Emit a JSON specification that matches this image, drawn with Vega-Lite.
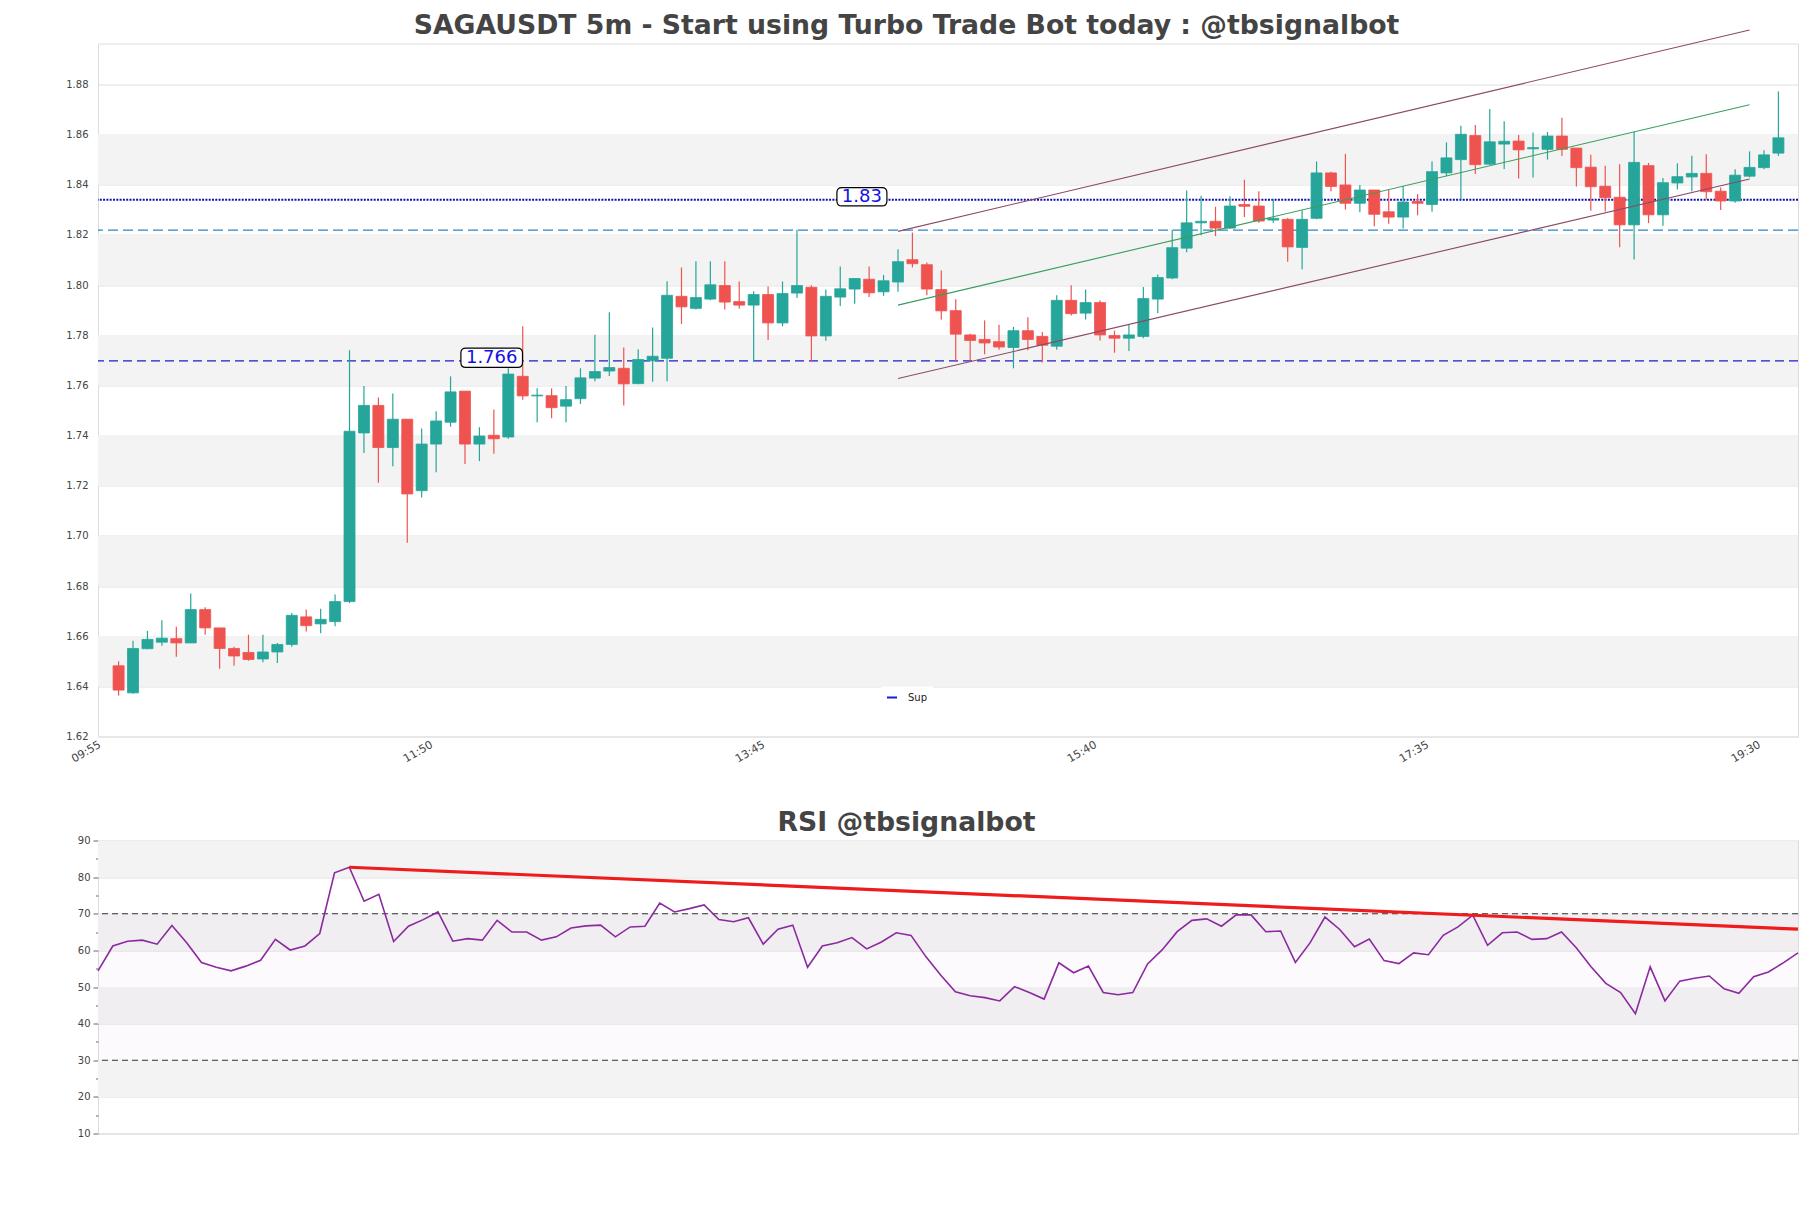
{
  "$schema": "https://vega.github.io/schema/vega-lite/v6.json",
  "background": "white",
  "padding": {"left": 57, "top": 11.5, "right": 10, "bottom": 10},
  "spacing": 45,
  "config": {
    "font": "DejaVu Sans",
    "view": {"stroke": "#dddddd", "strokeWidth": 1}
  },
  "datasets": {
    "candles": [
      {"i":0,"o":1.6482,"h":1.65,"l":1.6363,"c":1.6385},
      {"i":1,"o":1.6374,"h":1.6582,"l":1.637,"c":1.6551},
      {"i":2,"o":1.655,"h":1.6621,"l":1.6548,"c":1.6587},
      {"i":3,"o":1.6576,"h":1.6663,"l":1.6562,"c":1.6592},
      {"i":4,"o":1.659,"h":1.6638,"l":1.6518,"c":1.6573},
      {"i":5,"o":1.6573,"h":1.677,"l":1.6573,"c":1.6706},
      {"i":6,"o":1.6706,"h":1.6715,"l":1.6606,"c":1.6633},
      {"i":7,"o":1.6633,"h":1.6633,"l":1.647,"c":1.6551},
      {"i":8,"o":1.6551,"h":1.6558,"l":1.6482,"c":1.6521},
      {"i":9,"o":1.6535,"h":1.6606,"l":1.6502,"c":1.6507},
      {"i":10,"o":1.6509,"h":1.6606,"l":1.6496,"c":1.6537},
      {"i":11,"o":1.6537,"h":1.6573,"l":1.6493,"c":1.6567},
      {"i":12,"o":1.6567,"h":1.6692,"l":1.6558,"c":1.6683},
      {"i":13,"o":1.6677,"h":1.6706,"l":1.6619,"c":1.6642},
      {"i":14,"o":1.6649,"h":1.6709,"l":1.6612,"c":1.6667},
      {"i":15,"o":1.6658,"h":1.6766,"l":1.664,"c":1.6738},
      {"i":16,"o":1.6738,"h":1.774,"l":1.6732,"c":1.7417},
      {"i":17,"o":1.741,"h":1.7597,"l":1.733,"c":1.752},
      {"i":18,"o":1.752,"h":1.7552,"l":1.7212,"c":1.7352},
      {"i":19,"o":1.7352,"h":1.7568,"l":1.7277,"c":1.7465},
      {"i":20,"o":1.7465,"h":1.7465,"l":1.6972,"c":1.7167},
      {"i":21,"o":1.718,"h":1.7428,"l":1.7153,"c":1.7366},
      {"i":22,"o":1.7366,"h":1.7497,"l":1.7254,"c":1.7458},
      {"i":23,"o":1.7453,"h":1.7636,"l":1.7435,"c":1.7574},
      {"i":24,"o":1.7577,"h":1.7577,"l":1.7286,"c":1.7366},
      {"i":25,"o":1.7366,"h":1.7433,"l":1.7298,"c":1.7398},
      {"i":26,"o":1.7401,"h":1.7504,"l":1.7327,"c":1.7387},
      {"i":27,"o":1.7394,"h":1.7668,"l":1.7387,"c":1.7645},
      {"i":28,"o":1.7636,"h":1.7836,"l":1.7543,"c":1.7558},
      {"i":29,"o":1.7558,"h":1.7588,"l":1.7453,"c":1.7561},
      {"i":30,"o":1.7559,"h":1.7588,"l":1.7469,"c":1.7511},
      {"i":31,"o":1.7517,"h":1.7597,"l":1.7453,"c":1.7543},
      {"i":32,"o":1.7547,"h":1.7668,"l":1.7526,"c":1.763},
      {"i":33,"o":1.7629,"h":1.7802,"l":1.7616,"c":1.7655},
      {"i":34,"o":1.7657,"h":1.7891,"l":1.7637,"c":1.7671},
      {"i":35,"o":1.7668,"h":1.7751,"l":1.752,"c":1.7606},
      {"i":36,"o":1.7607,"h":1.7744,"l":1.7604,"c":1.7703},
      {"i":37,"o":1.7698,"h":1.7831,"l":1.7614,"c":1.7716},
      {"i":38,"o":1.7708,"h":1.8015,"l":1.7616,"c":1.7959},
      {"i":39,"o":1.7955,"h":1.807,"l":1.7845,"c":1.7913},
      {"i":40,"o":1.7907,"h":1.8095,"l":1.7902,"c":1.795},
      {"i":41,"o":1.7944,"h":1.8095,"l":1.7939,"c":1.8001},
      {"i":42,"o":1.7998,"h":1.8095,"l":1.7902,"c":1.7932},
      {"i":43,"o":1.7934,"h":1.8014,"l":1.7905,"c":1.792},
      {"i":44,"o":1.792,"h":1.7975,"l":1.7694,"c":1.7962},
      {"i":45,"o":1.7962,"h":1.7994,"l":1.7781,"c":1.7849},
      {"i":46,"o":1.7849,"h":1.8014,"l":1.7836,"c":1.7966},
      {"i":47,"o":1.7968,"h":1.822,"l":1.7948,"c":1.7998},
      {"i":48,"o":1.7991,"h":1.7999,"l":1.7694,"c":1.7797},
      {"i":49,"o":1.7797,"h":1.7982,"l":1.7778,"c":1.7955},
      {"i":50,"o":1.7952,"h":1.8074,"l":1.7916,"c":1.7985},
      {"i":51,"o":1.7984,"h":1.8026,"l":1.7925,"c":1.8026},
      {"i":52,"o":1.8023,"h":1.8074,"l":1.7952,"c":1.7969},
      {"i":53,"o":1.7973,"h":1.804,"l":1.7957,"c":1.8017},
      {"i":54,"o":1.8012,"h":1.8143,"l":1.7973,"c":1.8093},
      {"i":55,"o":1.8101,"h":1.8209,"l":1.807,"c":1.8085},
      {"i":56,"o":1.8081,"h":1.809,"l":1.7959,"c":1.7984},
      {"i":57,"o":1.7982,"h":1.8058,"l":1.7863,"c":1.7897},
      {"i":58,"o":1.7898,"h":1.7943,"l":1.7694,"c":1.7804},
      {"i":59,"o":1.7801,"h":1.7806,"l":1.7698,"c":1.7779},
      {"i":60,"o":1.7783,"h":1.7859,"l":1.7724,"c":1.7769},
      {"i":61,"o":1.7774,"h":1.7842,"l":1.7742,"c":1.7753},
      {"i":62,"o":1.7751,"h":1.7833,"l":1.7668,"c":1.7818},
      {"i":63,"o":1.7818,"h":1.7872,"l":1.774,"c":1.7783},
      {"i":64,"o":1.7795,"h":1.7813,"l":1.7691,"c":1.776},
      {"i":65,"o":1.7756,"h":1.7959,"l":1.7742,"c":1.7939},
      {"i":66,"o":1.7939,"h":1.7999,"l":1.7879,"c":1.7886},
      {"i":67,"o":1.7888,"h":1.7982,"l":1.7863,"c":1.793},
      {"i":68,"o":1.793,"h":1.7939,"l":1.7779,"c":1.7801},
      {"i":69,"o":1.7799,"h":1.7818,"l":1.773,"c":1.7788},
      {"i":70,"o":1.7788,"h":1.7842,"l":1.7737,"c":1.7801},
      {"i":71,"o":1.7795,"h":1.7992,"l":1.7788,"c":1.7946},
      {"i":72,"o":1.7944,"h":1.8042,"l":1.7888,"c":1.803},
      {"i":73,"o":1.8028,"h":1.822,"l":1.8023,"c":1.8149},
      {"i":74,"o":1.8147,"h":1.8377,"l":1.8131,"c":1.8248},
      {"i":75,"o":1.8248,"h":1.8356,"l":1.8198,"c":1.8254},
      {"i":76,"o":1.8254,"h":1.8312,"l":1.8195,"c":1.8227},
      {"i":77,"o":1.8227,"h":1.8354,"l":1.8223,"c":1.8315},
      {"i":78,"o":1.8321,"h":1.842,"l":1.8271,"c":1.8314},
      {"i":79,"o":1.8315,"h":1.8374,"l":1.8248,"c":1.8255},
      {"i":80,"o":1.8259,"h":1.8342,"l":1.8248,"c":1.8266},
      {"i":81,"o":1.8262,"h":1.8267,"l":1.8093,"c":1.8152},
      {"i":82,"o":1.815,"h":1.8298,"l":1.8063,"c":1.8262},
      {"i":83,"o":1.8266,"h":1.8493,"l":1.8262,"c":1.8447},
      {"i":84,"o":1.8447,"h":1.8452,"l":1.8374,"c":1.8393},
      {"i":85,"o":1.8399,"h":1.8523,"l":1.8301,"c":1.8326},
      {"i":86,"o":1.8326,"h":1.8399,"l":1.829,"c":1.8379},
      {"i":87,"o":1.8379,"h":1.8379,"l":1.8234,"c":1.8282},
      {"i":88,"o":1.8292,"h":1.8379,"l":1.8244,"c":1.8271},
      {"i":89,"o":1.8271,"h":1.8395,"l":1.8225,"c":1.8331},
      {"i":90,"o":1.8333,"h":1.8363,"l":1.8278,"c":1.8326},
      {"i":91,"o":1.8321,"h":1.8493,"l":1.8292,"c":1.8452},
      {"i":92,"o":1.8447,"h":1.8569,"l":1.8434,"c":1.8507},
      {"i":93,"o":1.85,"h":1.8635,"l":1.8342,"c":1.8601},
      {"i":94,"o":1.8596,"h":1.8638,"l":1.8443,"c":1.848},
      {"i":95,"o":1.8482,"h":1.8702,"l":1.8479,"c":1.8571},
      {"i":96,"o":1.8562,"h":1.8653,"l":1.8463,"c":1.8573},
      {"i":97,"o":1.8574,"h":1.8598,"l":1.8425,"c":1.8539},
      {"i":98,"o":1.8543,"h":1.8608,"l":1.8429,"c":1.8548},
      {"i":99,"o":1.8541,"h":1.861,"l":1.85,"c":1.8594},
      {"i":100,"o":1.8594,"h":1.8667,"l":1.8514,"c":1.8541},
      {"i":101,"o":1.8546,"h":1.8546,"l":1.8393,"c":1.8468},
      {"i":102,"o":1.847,"h":1.8519,"l":1.8296,"c":1.8392},
      {"i":103,"o":1.8394,"h":1.8476,"l":1.8293,"c":1.8348},
      {"i":104,"o":1.835,"h":1.8482,"l":1.8151,"c":1.824},
      {"i":105,"o":1.824,"h":1.8611,"l":1.8102,"c":1.8489},
      {"i":106,"o":1.8476,"h":1.8487,"l":1.8247,"c":1.828},
      {"i":107,"o":1.828,"h":1.8427,"l":1.8236,"c":1.8408},
      {"i":108,"o":1.8407,"h":1.8486,"l":1.8381,"c":1.8432},
      {"i":109,"o":1.8431,"h":1.8515,"l":1.8374,"c":1.8445},
      {"i":110,"o":1.8445,"h":1.8521,"l":1.8341,"c":1.8372},
      {"i":111,"o":1.8374,"h":1.8389,"l":1.8299,"c":1.8335},
      {"i":112,"o":1.8335,"h":1.8462,"l":1.8328,"c":1.8438},
      {"i":113,"o":1.8434,"h":1.8533,"l":1.8429,"c":1.8469},
      {"i":114,"o":1.8468,"h":1.8537,"l":1.8462,"c":1.8519},
      {"i":115,"o":1.8526,"h":1.8772,"l":1.8515,"c":1.8587}
    ],
    "rsi": [
      {"i":0,"v":54.4},{"i":1,"v":61.2},{"i":2,"v":62.5},{"i":3,"v":62.8},{"i":4,"v":61.7},
      {"i":5,"v":66.8},{"i":6,"v":62.1},{"i":7,"v":56.7},{"i":8,"v":55.4},{"i":9,"v":54.4},
      {"i":10,"v":55.7},{"i":11,"v":57.3},{"i":12,"v":63.0},{"i":13,"v":60.1},{"i":14,"v":61.2},
      {"i":15,"v":64.6},{"i":16,"v":81.2},{"i":17,"v":82.7},{"i":18,"v":73.4},{"i":19,"v":75.3},
      {"i":20,"v":62.4},{"i":21,"v":66.6},{"i":22,"v":68.4},{"i":23,"v":70.5},{"i":24,"v":62.5},
      {"i":25,"v":63.2},{"i":26,"v":62.8},{"i":27,"v":68.2},{"i":28,"v":65.0},{"i":29,"v":65.0},
      {"i":30,"v":62.8},{"i":31,"v":63.7},{"i":32,"v":66.1},{"i":33,"v":66.7},{"i":34,"v":66.9},
      {"i":35,"v":63.7},{"i":36,"v":66.4},{"i":37,"v":66.6},{"i":38,"v":72.9},{"i":39,"v":70.5},
      {"i":40,"v":71.4},{"i":41,"v":72.4},{"i":42,"v":68.4},{"i":43,"v":67.8},{"i":44,"v":68.9},
      {"i":45,"v":61.7},{"i":46,"v":65.8},{"i":47,"v":66.9},{"i":48,"v":55.4},{"i":49,"v":61.2},
      {"i":50,"v":62.1},{"i":51,"v":63.5},{"i":52,"v":60.4},{"i":53,"v":62.3},{"i":54,"v":64.8},
      {"i":55,"v":64.1},{"i":56,"v":58.3},{"i":57,"v":53.3},{"i":58,"v":48.7},{"i":59,"v":47.6},
      {"i":60,"v":47.1},{"i":61,"v":46.2},{"i":62,"v":50.1},{"i":63,"v":48.5},{"i":64,"v":46.7},
      {"i":65,"v":56.6},{"i":66,"v":53.9},{"i":67,"v":55.7},{"i":68,"v":48.5},{"i":69,"v":47.9},
      {"i":70,"v":48.5},{"i":71,"v":56.3},{"i":72,"v":60.2},{"i":73,"v":65.1},{"i":74,"v":68.2},
      {"i":75,"v":68.6},{"i":76,"v":66.6},{"i":77,"v":69.7},{"i":78,"v":69.7},{"i":79,"v":65.1},
      {"i":80,"v":65.3},{"i":81,"v":56.7},{"i":82,"v":62.1},{"i":83,"v":69.1},{"i":84,"v":65.7},
      {"i":85,"v":61.0},{"i":86,"v":63.1},{"i":87,"v":57.2},{"i":88,"v":56.4},{"i":89,"v":59.3},
      {"i":90,"v":58.8},{"i":91,"v":64.1},{"i":92,"v":66.4},{"i":93,"v":69.6},{"i":94,"v":61.4},
      {"i":95,"v":64.8},{"i":96,"v":65.0},{"i":97,"v":63.0},{"i":98,"v":63.2},{"i":99,"v":65.0},
      {"i":100,"v":60.7},{"i":101,"v":55.5},{"i":102,"v":51.0},{"i":103,"v":48.5},{"i":104,"v":42.7},
      {"i":105,"v":55.5},{"i":106,"v":46.2},{"i":107,"v":51.6},{"i":108,"v":52.4},{"i":109,"v":53.0},
      {"i":110,"v":49.5},{"i":111,"v":48.3},{"i":112,"v":52.8},{"i":113,"v":54.1},{"i":114,"v":56.6},
      {"i":115,"v":59.3}
    ]
  },
  "vconcat": [
    {
      "width": 1700,
      "height": 693,
      "title": {
        "text": "SAGAUSDT 5m - Start using Turbo Trade Bot today : @tbsignalbot",
        "fontSize": 26.7, "fontWeight": "bold", "color": "#444444",
        "anchor": "middle", "frame": "group", "offset": -38.5, "baseline": "bottom", "dx": -41.5
      },
      "layer": [
        {
          "data": {"values": [
            {"lo":1.64,"hi":1.66},{"lo":1.68,"hi":1.70},{"lo":1.72,"hi":1.74},
            {"lo":1.76,"hi":1.78},{"lo":1.80,"hi":1.82},{"lo":1.84,"hi":1.86}
          ]},
          "mark": {"type": "rect", "color": "#f3f3f3"},
          "encoding": {
            "x": {"value": 0},
            "x2": {"value": "width"},
            "y": {
              "field": "lo", "type": "quantitative",
              "scale": {"domain": [1.62, 1.8963], "nice": false, "zero": false},
              "axis": {
                "values": [1.62,1.64,1.66,1.68,1.70,1.72,1.74,1.76,1.78,1.80,1.82,1.84,1.86,1.88],
                "format": ".2f", "grid": true, "gridColor": "#e0e0e0", "ticks": false,
                "labelPadding": 10, "domain": false, "labelFontSize": 10, "labelColor": "#444444",
                "minExtent": 40, "maxExtent": 40, "title": null, "labelOverlap": false
              }
            },
            "y2": {"field": "hi"}
          }
        },
        {
          "data": {"values": [{"p": 1.8219}]},
          "mark": {"type": "rule", "color": "#2a86cc", "strokeWidth": 1.2, "strokeDash": [10, 5]},
          "encoding": {"y": {"field": "p", "type": "quantitative"}}
        },
        {
          "data": {"values": [{"p": 1.834}]},
          "mark": {"type": "rule", "color": "#1010b0", "strokeWidth": 2.2, "strokeDash": [2, 1.3]},
          "encoding": {"y": {"field": "p", "type": "quantitative"}}
        },
        {
          "data": {"values": [{"p": 1.7698}]},
          "mark": {"type": "rule", "strokeWidth": 1.3, "strokeDash": [9, 5]},
          "encoding": {
            "y": {"field": "p", "type": "quantitative"},
            "color": {
              "datum": "Sup", "type": "nominal",
              "scale": {"range": ["#1b1bd0"]},
              "legend": {
                "orient": "none", "legendX": 783, "legendY": 643, "title": null,
                "symbolType": "stroke", "symbolSize": 100, "symbolStrokeWidth": 2, "symbolDash": [],
                "labelFontSize": 10, "labelColor": "#222222", "labelOffset": 10,
                "padding": 5, "fillColor": "white"
              }
            }
          }
        },
        {
          "data": {"name": "candles"},
          "mark": {"type": "rule", "strokeWidth": 1.2},
          "encoding": {
            "x": {
              "field": "i", "type": "quantitative",
              "scale": {"domain": [-1.08, 116.01], "nice": false, "zero": false},
              "axis": {
                "values": [0, 23, 46, 69, 92, 115],
                "labelExpr": "['09:55','11:50','13:45','15:40','17:35','19:30'][indexof([0,23,46,69,92,115], datum.value)]",
                "labelAngle": -30, "labelAlign": "right", "labelBaseline": "top",
                "labelOffset": -22, "labelPadding": 2, "ticks": false, "grid": false, "domain": false,
                "labelFontSize": 11, "labelColor": "#444444", "title": null,
                "labelFlush": false, "labelOverlap": false
              }
            },
            "y": {"field": "l", "type": "quantitative"},
            "y2": {"field": "h"},
            "color": {"condition": {"test": "datum.c >= datum.o", "value": "#26a69a"}, "value": "#ef5350"}
          }
        },
        {
          "data": {"name": "candles"},
          "mark": {"type": "bar", "width": 11, "strokeWidth": 0.8},
          "encoding": {
            "x": {"field": "i", "type": "quantitative"},
            "y": {"field": "o", "type": "quantitative"},
            "y2": {"field": "c"},
            "color": {"condition": {"test": "datum.c >= datum.o", "value": "#26a69a"}, "value": "#ef5350"},
            "stroke": {"condition": {"test": "datum.c >= datum.o", "value": "#26a69a"}, "value": "#ef5350"}
          }
        },
        {
          "data": {"values": [
            {"s": "upper", "i": 54, "p": 1.8214}, {"s": "upper", "i": 113, "p": 1.9017},
            {"s": "lower", "i": 54, "p": 1.7627}, {"s": "lower", "i": 113, "p": 1.8423}
          ]},
          "mark": {"type": "line", "color": "#8c4a66", "strokeWidth": 1.1},
          "encoding": {
            "x": {"field": "i", "type": "quantitative"},
            "y": {"field": "p", "type": "quantitative"},
            "detail": {"field": "s"}
          }
        },
        {
          "data": {"values": [{"i": 54, "p": 1.792}, {"i": 113, "p": 1.8719}]},
          "mark": {"type": "line", "color": "#3a9e5c", "strokeWidth": 1.1},
          "encoding": {
            "x": {"field": "i", "type": "quantitative"},
            "y": {"field": "p", "type": "quantitative"}
          }
        },
        {
          "data": {"values": [{"i": 25.85, "p": 1.771}]},
          "mark": {
            "type": "point", "filled": true, "fill": "white", "stroke": "black", "strokeWidth": 1.2, "opacity": 1,
            "size": 3795,
            "shape": "M-0.84,-0.312 L0.84,-0.312 Q1,-0.312 1,-0.152 L1,0.152 Q1,0.312 0.84,0.312 L-0.84,0.312 Q-1,0.312 -1,0.152 L-1,-0.152 Q-1,-0.312 -0.84,-0.312 Z"
          },
          "encoding": {
            "x": {"field": "i", "type": "quantitative"},
            "y": {"field": "p", "type": "quantitative"}
          }
        },
        {
          "data": {"values": [{"i": 51.5, "p": 1.8352}]},
          "mark": {
            "type": "point", "filled": true, "fill": "white", "stroke": "black", "strokeWidth": 1.2, "opacity": 1,
            "size": 2500,
            "shape": "M-0.8,-0.366 L0.8,-0.366 Q1,-0.366 1,-0.166 L1,0.166 Q1,0.366 0.8,0.366 L-0.8,0.366 Q-1,0.366 -1,0.166 L-1,-0.166 Q-1,-0.366 -0.8,-0.366 Z"
          },
          "encoding": {
            "x": {"field": "i", "type": "quantitative"},
            "y": {"field": "p", "type": "quantitative"}
          }
        },
        {
          "data": {"values": [{"i": 25.85, "p": 1.771, "t": "1.766"}, {"i": 51.5, "p": 1.8352, "t": "1.83"}]},
          "mark": {"type": "text", "fontSize": 18, "color": "#1212e0", "baseline": "middle", "align": "center"},
          "encoding": {
            "x": {"field": "i", "type": "quantitative"},
            "y": {"field": "p", "type": "quantitative"},
            "text": {"field": "t"}
          }
        }
      ]
    },
    {
      "width": 1700,
      "height": 293,
      "title": {
        "text": "RSI @tbsignalbot",
        "fontSize": 26.7, "fontWeight": "bold", "color": "#444444",
        "anchor": "middle", "frame": "group", "offset": -28.2, "baseline": "bottom", "dx": -41.5
      },
      "resolve": {"axis": {"y": "independent"}},
      "layer": [
        {
          "data": {"values": [{"lo":80,"hi":90},{"lo":60,"hi":70},{"lo":40,"hi":50},{"lo":20,"hi":30}]},
          "mark": {"type": "rect", "color": "#f3f3f3"},
          "encoding": {
            "x": {"value": 0},
            "x2": {"value": "width"},
            "y": {
              "field": "lo", "type": "quantitative",
              "scale": {"domain": [10, 90], "nice": false, "zero": false},
              "axis": {
                "orient": "left",
                "values": [10,20,30,40,50,60,70,80,90],
                "grid": true, "gridColor": "#dcdcdc",
                "tickSize": 5, "tickColor": "#666666", "labelPadding": 3, "domain": false,
                "labelFontSize": 10, "labelColor": "#444444", "labelOverlap": false,
                "minExtent": 40, "maxExtent": 40, "title": null
              }
            },
            "y2": {"field": "hi"}
          }
        },
        {
          "data": {"values": [{"lo": 30, "hi": 70}]},
          "mark": {"type": "rect", "color": "#8e24aa", "opacity": 0.025},
          "encoding": {
            "x": {"value": 0},
            "x2": {"value": "width"},
            "y": {"field": "lo", "type": "quantitative", "axis": null},
            "y2": {"field": "hi"}
          }
        },
        {
          "data": {"values": [{"v": 70}, {"v": 30}]},
          "mark": {"type": "rule", "color": "#333333", "strokeWidth": 1.2, "strokeDash": [6, 4]},
          "encoding": {
            "y": {
              "field": "v", "type": "quantitative",
              "axis": {
                "orient": "left",
                "values": [15,25,35,45,55,65,75,85],
                "labels": false, "grid": false, "domain": false,
                "tickSize": 2.5, "tickColor": "#666666",
                "minExtent": 40, "maxExtent": 40, "title": null
              }
            }
          }
        },
        {
          "data": {"name": "rsi"},
          "mark": {"type": "line", "color": "#8b2a9e", "strokeWidth": 1.6},
          "encoding": {
            "x": {"field": "i", "type": "quantitative", "scale": {"domain": [0, 115], "nice": false, "zero": false}, "axis": null},
            "y": {"field": "v", "type": "quantitative", "axis": null}
          }
        },
        {
          "data": {"values": [{"i": 17, "v": 82.7}, {"i": 115, "v": 65.8}]},
          "mark": {"type": "line", "color": "#ee1c1c", "strokeWidth": 3.2},
          "encoding": {
            "x": {"field": "i", "type": "quantitative"},
            "y": {"field": "v", "type": "quantitative", "axis": null}
          }
        }
      ]
    }
  ]
}
